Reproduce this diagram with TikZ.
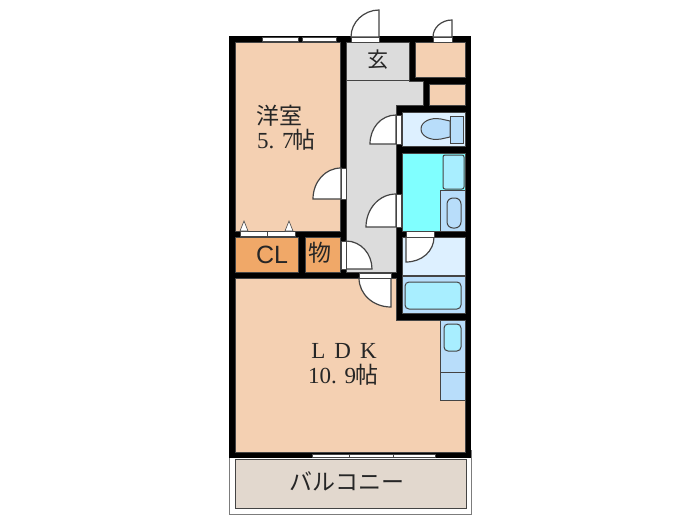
\documentclass[tikz,border=0pt]{standalone}
\usepackage{fontspec}
\setmainfont{Liberation Serif}
\setsansfont{Liberation Sans}
\newfontfamily\cjk{Noto Sans CJK JP}
\definecolor{roomc}{HTML}{F4D0B2}
\definecolor{clc}{HTML}{F0A868}
\definecolor{hallc}{HTML}{DCDCDC}
\definecolor{paleb}{HTML}{DDF0FF}
\definecolor{fixc}{HTML}{B8DDFA}
\definecolor{cyanc}{HTML}{80FFFF}
\definecolor{tubc}{HTML}{A8EEFF}
\definecolor{balc}{HTML}{E2D8CE}
\definecolor{edgec}{HTML}{444444}
\tikzset{
  room/.style={fill=#1,draw=edgec,line width=0.5pt},
  fixture/.style={fill=#1,draw=edgec,line width=1pt},
  frame/.style={fill=white,draw=edgec,line width=0.6pt},
  door/.style={fill=white,draw=edgec,line width=1.2pt},
  label/.style={font=\fontsize{23}{25}\selectfont,inner sep=0pt,text=black!85}
}
\begin{document}
\begin{tikzpicture}[x=1pt,y=-1pt]
\useasboundingbox (0,0) rectangle (700,525);
\fill[white] (0,0) rectangle (700,525);
% balcony
\draw[edgec!70,line width=1pt,fill=white] (229,450) rectangle (471,514);
\draw[edgec,line width=1pt,fill=balc] (235,459) rectangle (466,508);
% walls
\fill[black] (229,36) rectangle (471,458);
% rooms
\draw[room=roomc] (235,42) rectangle (340,231);
\draw[room=clc] (235,237) rectangle (298,272);
\draw[room=clc] (305,237) rectangle (340,272);
\draw[room=roomc] (235,278) -- (396,278) -- (396,320) -- (465,320) -- (465,452) -- (235,452) -- cycle;
\draw[room=roomc] (415,42) rectangle (465,77);
\draw[room=roomc] (429,84) rectangle (465,105);
\draw[room=hallc] (346,42) -- (409,42) -- (409,81) -- (423,81) -- (423,105) -- (396,105) -- (396,272) -- (346,272) -- cycle;
\draw[edgec,line width=1.2pt] (346,80.5) -- (409,80.5);
\draw[room=paleb] (402,112) rectangle (465,146);
\draw[room=cyanc] (402,153) rectangle (465,231);
\draw[room=paleb] (402,237) rectangle (465,275);
\draw[room=fixc] (402,276) rectangle (465,313);
% fixtures
\draw[fixture=fixc] (450,116) rectangle (463,143);
\draw[fixture=fixc] (450,121) -- (441,119) .. controls (430,117) and (421,122) .. (421,129) .. controls (421,136) and (430,141) .. (441,139) -- (450,137) -- cycle;
\draw[fixture=fixc] (440,190.5) rectangle (465,231);
\draw[fixture=fixc,rounded corners=6pt] (447,198) rectangle (461,228);
\draw[fixture=tubc,rounded corners=2pt] (443,155) rectangle (464,189);
\draw[fixture=tubc,rounded corners=4pt] (405,282) rectangle (461,309);
\draw[room=fixc] (440,320) rectangle (465,400.5);
\draw[edgec,line width=0.6pt] (440,372) -- (465,372);
\draw[fixture=tubc,rounded corners=4pt] (444,324) rectangle (461,351);
% windows
\draw[frame] (262,37) rectangle (298,41);
\draw[frame] (302,37) rectangle (336,41);
\draw[frame] (312,454) rectangle (349,457);
\draw[frame] (349,454) rectangle (393,457);
\draw[frame] (393,454) rectangle (435,457);
% closet doors
\draw[frame] (240,231) rectangle (267,236);
\draw[frame] (267,231) rectangle (295,236);
\draw[frame] (240,231) -- (244,221) -- (248,231) -- cycle;
\draw[frame] (285,231) -- (289,221) -- (293,231) -- cycle;
% doors
\draw[door] (379,37) -- (379,10) .. controls (364,10) and (351,22) .. (351,37) -- cycle;
\draw[frame] (351,37) rectangle (379,42);
\draw[door] (452,37) -- (452,20) .. controls (441,20) and (433,28) .. (433,37) -- cycle;
\draw[frame] (433,37) rectangle (452,42);
\draw[door] (396,115) .. controls (381,115) and (370,128) .. (370,144) -- (396,144) -- cycle;
\draw[frame] (396,115) rectangle (401,144);
\draw[door] (341,168) .. controls (325,168) and (313,182) .. (313,199) -- (341,199) -- cycle;
\draw[frame] (341,168) rectangle (346,199);
\draw[door] (396,194) .. controls (379,194) and (366,209) .. (366,227) -- (396,227) -- cycle;
\draw[frame] (396,194) rectangle (401,227);
\draw[door] (346,241) .. controls (361,241) and (372,254) .. (372,269) -- (346,269) -- cycle;
\draw[frame] (341,241) rectangle (346,269);
\draw[door] (359,278) .. controls (359,294) and (373,307) .. (391,307) -- (391,278) -- cycle;
\draw[frame] (359,273) rectangle (391,278);
\draw[door] (406,262) .. controls (422,262) and (434,251) .. (434,237) -- (406,237) -- cycle;
\draw[frame] (406,231) rectangle (434,237);
% labels
\node[label] (yoshitsu) at (279.5,116) {\cjk 洋室};
\node[label,anchor=west] (yoshitsuarea) at (257,140) {5. 7\hspace{-1pt}{\cjk 帖}};
\node[label,font=\fontsize{21}{23}\selectfont] (genkan) at (378,60) {\cjk 玄};
\node[label,font=\sffamily\fontsize{25}{27}\selectfont] (cl) at (272,255) {CL};
\node[label,font=\fontsize{23}{25}\selectfont] (mono) at (320,253) {\cjk 物};
\node[label] (ldk) at (344,351) {L\hspace{9pt}D\hspace{9pt}K};
\node[label,anchor=west] (ldkarea) at (308,375) {10. 9\hspace{-1pt}{\cjk 帖}};
\node[label] (balcony) at (347,481) {\cjk バルコニー};
\end{tikzpicture}
\end{document}
